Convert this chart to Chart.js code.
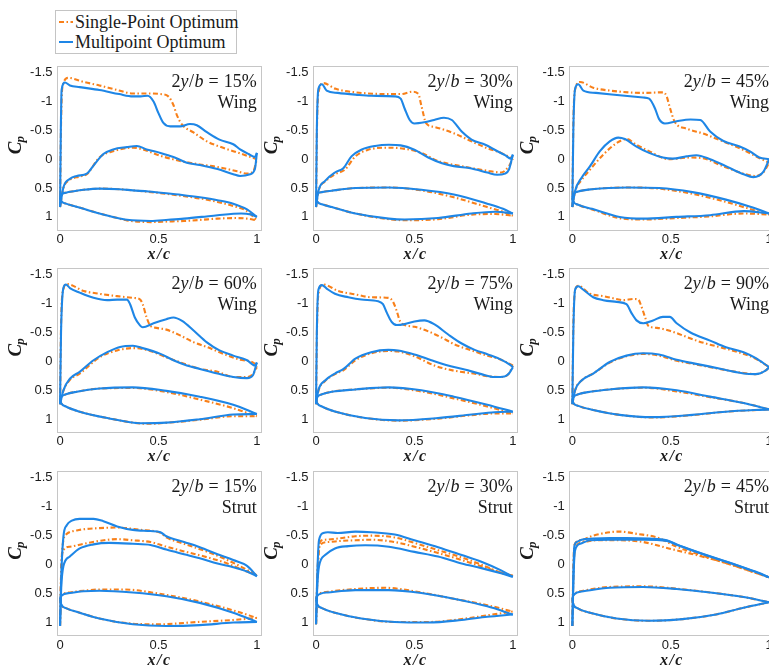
<!DOCTYPE html>
<html>
<head>
<meta charset="utf-8">
<title>Cp comparison</title>
<script src="https://cdn.jsdelivr.net/npm/chart.js@4.4.1/dist/chart.umd.min.js"></script>
<style>
  html, body { margin: 0; padding: 0; background: #fff; width: 769px; height: 671px; overflow: hidden; }
  #fig { position: relative; width: 769px; height: 671px; overflow: hidden; }
  #fig canvas { position: absolute; }
  #legend { position: absolute; left: 55px; top: 10px; width: 180px; height: 42px; border: 1px solid #c4c4c4; background: #fff;
            font-family: "Liberation Serif", serif; font-size: 18px; color: #1a1a1a; }
  #legend .row { position: absolute; left: 2px; height: 18px; line-height: 18px; white-space: nowrap; }
  #legend svg { position: absolute; left: 0; top: 3px; }
  #legend span { position: absolute; left: 17px; top: 0; }
</style>
</head>
<body>
<div id="fig">
  <div id="legend"></div>
</div>
<script>
// panel captions
const SPANS = [15, 30, 45, 60, 75, 90, 15, 30, 45];
const PARTS = ['Wing', 'Wing', 'Wing', 'Wing', 'Wing', 'Wing', 'Strut', 'Strut', 'Strut'];
const SERIES_LABELS = ['Single-Point Optimum', 'Multipoint Optimum'];

// tick values and labels
const X_TICKS = [0, 0.5, 1];
const X_TICK_LABELS = ['0', '0.5', '1'];
const Y_TICKS = [-1.5, -1, -0.5, 0, 0.5, 1];
const Y_TICK_LABELS = ['-1.5', '-1', '-0.5', '0', '0.5', '1'];

// [x/c, value] pairs. Up/Lo = Cp of the two surfaces, ShU/ShL = section shape drawn on the Cp axis
// wing 15%
const w15MpUp = [[0,0.83],[0.004,-0.5],[0.008,-1.2],[0.025,-1.33],[0.05,-1.28],[0.1,-1.25],[0.2,-1.2],[0.3,-1.13],[0.37,-1.09],[0.41,-1.09],[0.445,-1.1],[0.475,-1.0],[0.5,-0.8],[0.525,-0.63],[0.56,-0.57],[0.61,-0.57],[0.66,-0.61],[0.695,-0.59],[0.746,-0.47],[0.81,-0.34],[0.88,-0.26],[0.915,-0.17],[0.958,-0.09],[0.99,-0.04],[1.0,-0.11]];
const w15MpLo = [[0,0.83],[0.017,0.49],[0.05,0.34],[0.085,0.29],[0.136,0.25],[0.17,0.11],[0.22,-0.09],[0.27,-0.17],[0.34,-0.21],[0.39,-0.23],[0.44,-0.17],[0.51,-0.11],[0.576,-0.04],[0.644,0.06],[0.71,0.1],[0.8,0.17],[0.88,0.26],[0.915,0.29],[0.966,0.26],[0.99,0.17],[1.0,-0.11]];
const w15SpUp = [[0,0.83],[0.005,-0.6],[0.012,-1.25],[0.042,-1.41],[0.12,-1.34],[0.2,-1.28],[0.29,-1.2],[0.37,-1.14],[0.44,-1.14],[0.51,-1.13],[0.55,-1.09],[0.576,-0.94],[0.593,-0.77],[0.62,-0.6],[0.68,-0.46],[0.746,-0.31],[0.81,-0.22],[0.88,-0.14],[0.95,-0.06],[1.0,0.0]];
const w15SpLo = [[0,0.83],[0.017,0.5],[0.05,0.36],[0.1,0.3],[0.136,0.26],[0.2,-0.03],[0.27,-0.14],[0.37,-0.2],[0.42,-0.17],[0.51,-0.06],[0.61,0.03],[0.71,0.09],[0.81,0.14],[0.9,0.21],[0.95,0.25],[0.983,0.2],[1.0,0.0]];
const w15MpShU = [[0,0.67],[0.005,0.62],[0.03,0.58],[0.07,0.555],[0.12,0.53],[0.2,0.51],[0.3,0.52],[0.37,0.54],[0.45,0.56],[0.54,0.59],[0.62,0.62],[0.71,0.66],[0.8,0.71],[0.88,0.77],[0.95,0.87],[1.0,1.0]];
const w15MpShL = [[0,0.67],[0.005,0.72],[0.03,0.77],[0.07,0.81],[0.12,0.86],[0.2,0.94],[0.28,1.01],[0.34,1.05],[0.46,1.07],[0.55,1.05],[0.63,1.03],[0.72,1.0],[0.8,0.97],[0.92,0.94],[0.97,0.96],[1.0,1.0]];
const w15SpShU = [[0,0.67],[0.005,0.62],[0.03,0.58],[0.07,0.555],[0.12,0.53],[0.2,0.51],[0.3,0.52],[0.37,0.54],[0.45,0.565],[0.54,0.6],[0.62,0.635],[0.71,0.68],[0.8,0.74],[0.88,0.81],[0.95,0.9],[1.0,1.06]];
const w15SpShL = [[0,0.67],[0.005,0.72],[0.03,0.77],[0.07,0.81],[0.12,0.86],[0.2,0.94],[0.28,1.01],[0.34,1.06],[0.46,1.09],[0.55,1.08],[0.63,1.07],[0.72,1.05],[0.8,1.03],[0.9,1.02],[0.95,1.03],[1.0,1.06]];
// wing 30%
const w30MpUp = [[0,0.83],[0.004,-0.5],[0.012,-1.22],[0.03,-1.3],[0.054,-1.19],[0.11,-1.15],[0.2,-1.12],[0.28,-1.1],[0.4,-1.09],[0.43,-1.05],[0.45,-0.88],[0.476,-0.68],[0.5,-0.62],[0.55,-0.64],[0.6,-0.68],[0.65,-0.72],[0.69,-0.68],[0.74,-0.48],[0.79,-0.34],[0.86,-0.25],[0.91,-0.16],[0.96,-0.07],[0.99,-0.01],[1.0,-0.08]];
const w30MpLo = [[0,0.83],[0.012,0.55],[0.046,0.375],[0.096,0.23],[0.14,0.15],[0.18,-0.05],[0.23,-0.165],[0.3,-0.23],[0.37,-0.25],[0.43,-0.24],[0.5,-0.165],[0.57,-0.03],[0.64,0.07],[0.7,0.12],[0.79,0.16],[0.87,0.23],[0.92,0.27],[0.96,0.25],[0.98,0.18],[1.0,-0.08]];
const w30SpUp = [[0,0.83],[0.005,-0.6],[0.015,-1.2],[0.037,-1.32],[0.1,-1.22],[0.2,-1.16],[0.37,-1.13],[0.43,-1.13],[0.49,-1.17],[0.52,-1.13],[0.535,-0.93],[0.56,-0.62],[0.6,-0.56],[0.7,-0.45],[0.79,-0.31],[0.87,-0.19],[0.94,-0.11],[1.0,-0.01]];
const w30SpLo = [[0,0.83],[0.012,0.56],[0.05,0.38],[0.096,0.26],[0.147,0.18],[0.2,-0.05],[0.265,-0.165],[0.37,-0.2],[0.45,-0.18],[0.535,-0.11],[0.62,0.03],[0.74,0.12],[0.87,0.2],[0.94,0.23],[0.98,0.12],[1.0,-0.01]];
const w30MpShU = [[0,0.67],[0.005,0.61],[0.03,0.57],[0.08,0.545],[0.2,0.5],[0.37,0.49],[0.535,0.53],[0.7,0.61],[0.87,0.77],[0.95,0.86],[1.0,0.94]];
const w30MpShL = [[0,0.67],[0.005,0.73],[0.03,0.78],[0.08,0.83],[0.2,0.94],[0.37,1.03],[0.45,1.045],[0.62,1.02],[0.79,0.94],[0.91,0.91],[1.0,0.94]];
const w30SpShU = [[0,0.67],[0.005,0.61],[0.03,0.57],[0.08,0.545],[0.2,0.5],[0.37,0.49],[0.535,0.54],[0.7,0.66],[0.87,0.83],[0.95,0.91],[1.0,0.98]];
const w30SpShL = [[0,0.67],[0.005,0.73],[0.03,0.78],[0.08,0.83],[0.2,0.94],[0.37,1.04],[0.45,1.057],[0.62,1.04],[0.79,0.96],[0.91,0.95],[1.0,0.98]];
// wing 45%
const w45MpUp = [[0,0.83],[0.005,-0.5],[0.014,-1.22],[0.03,-1.3],[0.056,-1.19],[0.12,-1.15],[0.24,-1.11],[0.36,-1.07],[0.39,-1.05],[0.42,-0.88],[0.44,-0.7],[0.47,-0.62],[0.53,-0.66],[0.6,-0.69],[0.65,-0.68],[0.7,-0.48],[0.765,-0.32],[0.85,-0.22],[0.9,-0.14],[0.95,-0.03],[1.0,0.0]];
const w45MpLo = [[0,0.83],[0.014,0.55],[0.047,0.32],[0.09,0.12],[0.14,-0.14],[0.19,-0.31],[0.233,-0.375],[0.267,-0.35],[0.326,-0.22],[0.39,-0.11],[0.46,-0.03],[0.51,-0.01],[0.58,-0.05],[0.63,-0.07],[0.7,0.0],[0.78,0.12],[0.87,0.26],[0.92,0.31],[0.97,0.22],[1.0,0.0]];
const w45SpUp = [[0,0.83],[0.005,-0.6],[0.015,-1.22],[0.039,-1.34],[0.106,-1.24],[0.19,-1.19],[0.36,-1.15],[0.46,-1.16],[0.478,-1.1],[0.495,-0.9],[0.52,-0.65],[0.58,-0.53],[0.66,-0.45],[0.765,-0.31],[0.87,-0.16],[0.95,-0.02],[1.0,0.06]];
const w45SpLo = [[0,0.83],[0.014,0.56],[0.047,0.36],[0.09,0.18],[0.157,-0.08],[0.225,-0.28],[0.275,-0.35],[0.326,-0.25],[0.39,-0.14],[0.49,0.0],[0.6,-0.03],[0.66,-0.02],[0.765,0.12],[0.87,0.25],[0.93,0.29],[0.97,0.23],[1.0,0.06]];
const w45MpShU = [[0,0.67],[0.005,0.61],[0.03,0.56],[0.1,0.52],[0.28,0.49],[0.44,0.5],[0.61,0.57],[0.78,0.7],[0.9,0.82],[1.0,0.94]];
const w45MpShL = [[0,0.67],[0.005,0.73],[0.03,0.79],[0.1,0.86],[0.24,1.0],[0.36,1.03],[0.53,1.0],[0.7,0.97],[0.87,0.9],[1.0,0.94]];
const w45SpShU = [[0,0.67],[0.005,0.61],[0.03,0.56],[0.1,0.52],[0.28,0.49],[0.44,0.51],[0.61,0.6],[0.78,0.74],[0.9,0.86],[1.0,0.96]];
const w45SpShL = [[0,0.67],[0.005,0.73],[0.03,0.79],[0.1,0.87],[0.24,1.02],[0.36,1.045],[0.53,1.02],[0.7,0.99],[0.87,0.94],[1.0,0.96]];
// wing 60%
const w60MpUp = [[0,0.74],[0.005,-0.5],[0.017,-1.27],[0.03,-1.33],[0.05,-1.27],[0.1,-1.19],[0.17,-1.1],[0.24,-1.06],[0.29,-1.07],[0.34,-1.07],[0.356,-0.99],[0.38,-0.76],[0.407,-0.62],[0.42,-0.59],[0.475,-0.66],[0.54,-0.73],[0.576,-0.76],[0.62,-0.7],[0.68,-0.53],[0.746,-0.33],[0.81,-0.19],[0.88,-0.1],[0.95,-0.02],[0.99,0.07],[1.0,0.02]];
const w60MpLo = [[0,0.74],[0.017,0.5],[0.05,0.3],[0.1,0.18],[0.17,-0.02],[0.24,-0.16],[0.305,-0.25],[0.37,-0.27],[0.42,-0.23],[0.51,-0.13],[0.576,-0.02],[0.644,0.07],[0.71,0.13],[0.8,0.21],[0.88,0.27],[0.95,0.29],[0.98,0.24],[1.0,0.02]];
const w60SpUp = [[0,0.74],[0.005,-0.6],[0.017,-1.25],[0.034,-1.34],[0.12,-1.22],[0.2,-1.17],[0.29,-1.13],[0.37,-1.1],[0.407,-1.07],[0.42,-0.99],[0.44,-0.76],[0.458,-0.62],[0.49,-0.58],[0.54,-0.55],[0.61,-0.45],[0.68,-0.33],[0.746,-0.25],[0.83,-0.13],[0.915,-0.03],[0.99,0.04],[1.0,0.1]];
const w60SpLo = [[0,0.74],[0.017,0.51],[0.05,0.32],[0.1,0.21],[0.2,-0.07],[0.29,-0.19],[0.37,-0.23],[0.44,-0.2],[0.54,-0.07],[0.63,0.04],[0.71,0.13],[0.8,0.18],[0.88,0.27],[0.95,0.27],[0.98,0.22],[1.0,0.1]];
const w60MpShU = [[0,0.67],[0.005,0.62],[0.03,0.57],[0.085,0.525],[0.2,0.47],[0.37,0.45],[0.54,0.51],[0.71,0.61],[0.88,0.75],[1.0,0.91]];
const w60MpShL = [[0,0.67],[0.005,0.72],[0.03,0.78],[0.1,0.87],[0.24,0.98],[0.41,1.07],[0.54,1.06],[0.71,1.0],[0.88,0.92],[1.0,0.91]];
const w60SpShU = [[0,0.67],[0.005,0.62],[0.03,0.57],[0.085,0.525],[0.2,0.47],[0.37,0.46],[0.54,0.53],[0.71,0.66],[0.88,0.81],[1.0,0.95]];
const w60SpShL = [[0,0.67],[0.005,0.72],[0.03,0.78],[0.1,0.87],[0.24,0.98],[0.45,1.08],[0.55,1.06],[0.71,1.01],[0.88,0.95],[1.0,0.95]];
// wing 75%
const w75MpUp = [[0,0.74],[0.004,-0.5],[0.012,-1.24],[0.03,-1.32],[0.054,-1.26],[0.096,-1.17],[0.164,-1.11],[0.23,-1.07],[0.316,-1.04],[0.34,-0.99],[0.36,-0.84],[0.383,-0.69],[0.41,-0.63],[0.45,-0.645],[0.5,-0.69],[0.55,-0.71],[0.6,-0.645],[0.67,-0.47],[0.74,-0.31],[0.806,-0.2],[0.873,-0.12],[0.94,-0.03],[0.99,0.07],[1.0,0.1]];
const w75MpLo = [[0,0.74],[0.012,0.5],[0.046,0.33],[0.096,0.21],[0.14,0.13],[0.2,-0.05],[0.28,-0.16],[0.367,-0.2],[0.417,-0.19],[0.5,-0.12],[0.586,-0.02],[0.67,0.07],[0.755,0.14],[0.84,0.22],[0.907,0.27],[0.958,0.26],[0.98,0.21],[1.0,0.1]];
const w75SpUp = [[0,0.74],[0.005,-0.6],[0.015,-1.22],[0.037,-1.33],[0.113,-1.22],[0.2,-1.16],[0.28,-1.11],[0.367,-1.1],[0.39,-1.04],[0.41,-0.87],[0.426,-0.7],[0.45,-0.63],[0.5,-0.6],[0.57,-0.52],[0.64,-0.41],[0.7,-0.3],[0.79,-0.19],[0.87,-0.1],[0.94,-0.03],[1.0,0.07]];
const w75SpLo = [[0,0.74],[0.012,0.51],[0.046,0.34],[0.096,0.22],[0.14,0.15],[0.2,-0.02],[0.28,-0.14],[0.367,-0.18],[0.417,-0.17],[0.5,-0.09],[0.6,0.07],[0.7,0.16],[0.8,0.21],[0.88,0.26],[0.94,0.27],[0.98,0.21],[1.0,0.07]];
const w75MpShU = [[0,0.67],[0.005,0.62],[0.03,0.57],[0.08,0.525],[0.2,0.485],[0.367,0.45],[0.535,0.5],[0.7,0.61],[0.87,0.75],[1.0,0.87]];
const w75MpShL = [[0,0.67],[0.005,0.72],[0.03,0.78],[0.1,0.87],[0.25,0.98],[0.42,1.02],[0.62,0.98],[0.79,0.92],[0.907,0.88],[1.0,0.87]];
const w75SpShU = [[0,0.67],[0.005,0.62],[0.03,0.57],[0.08,0.525],[0.2,0.485],[0.367,0.455],[0.535,0.52],[0.7,0.64],[0.87,0.78],[1.0,0.9]];
const w75SpShL = [[0,0.67],[0.005,0.72],[0.03,0.78],[0.1,0.87],[0.25,0.98],[0.42,1.025],[0.62,0.99],[0.79,0.93],[0.907,0.9],[1.0,0.9]];
// wing 90%
const w90MpUp = [[0,0.74],[0.005,-0.5],[0.014,-1.24],[0.03,-1.3],[0.056,-1.24],[0.106,-1.11],[0.157,-1.06],[0.225,-1.03],[0.275,-0.99],[0.3,-0.84],[0.326,-0.71],[0.36,-0.66],[0.41,-0.71],[0.46,-0.77],[0.495,-0.77],[0.53,-0.66],[0.6,-0.5],[0.7,-0.36],[0.78,-0.245],[0.87,-0.16],[0.93,-0.06],[1.0,0.1]];
const w90MpLo = [[0,0.74],[0.014,0.5],[0.047,0.33],[0.106,0.21],[0.19,0.01],[0.275,-0.1],[0.36,-0.14],[0.44,-0.12],[0.53,-0.03],[0.61,0.03],[0.7,0.09],[0.78,0.15],[0.87,0.21],[0.93,0.22],[0.985,0.15],[1.0,0.1]];
const w90SpUp = [[0,0.74],[0.005,-0.6],[0.014,-1.22],[0.03,-1.31],[0.09,-1.17],[0.157,-1.13],[0.225,-1.08],[0.26,-1.06],[0.31,-1.08],[0.335,-1.07],[0.35,-0.96],[0.37,-0.76],[0.385,-0.62],[0.43,-0.58],[0.495,-0.53],[0.56,-0.45],[0.63,-0.36],[0.7,-0.29],[0.78,-0.22],[0.87,-0.13],[0.93,-0.05],[1.0,0.1]];
const w90SpLo = [[0,0.74],[0.014,0.5],[0.047,0.33],[0.106,0.21],[0.19,0.02],[0.275,-0.09],[0.36,-0.13],[0.44,-0.1],[0.53,-0.01],[0.61,0.04],[0.7,0.1],[0.78,0.15],[0.87,0.2],[0.93,0.22],[0.985,0.15],[1.0,0.1]];
const w90MpShU = [[0,0.67],[0.005,0.62],[0.03,0.57],[0.09,0.525],[0.19,0.485],[0.36,0.45],[0.53,0.5],[0.7,0.61],[0.87,0.72],[1.0,0.83]];
const w90MpShL = [[0,0.67],[0.005,0.72],[0.03,0.77],[0.106,0.84],[0.24,0.925],[0.41,0.965],[0.61,0.925],[0.78,0.87],[1.0,0.83]];
const w90SpShU = [[0,0.67],[0.005,0.62],[0.03,0.57],[0.09,0.525],[0.19,0.485],[0.36,0.455],[0.53,0.52],[0.7,0.62],[0.87,0.72],[1.0,0.83]];
const w90SpShL = [[0,0.67],[0.005,0.72],[0.03,0.77],[0.106,0.84],[0.24,0.925],[0.41,0.97],[0.61,0.93],[0.78,0.87],[1.0,0.83]];
// strut 15%
const s15MpUp = [[0,1.06],[0.006,0.2],[0.017,-0.48],[0.034,-0.68],[0.06,-0.76],[0.1,-0.79],[0.17,-0.79],[0.22,-0.75],[0.29,-0.66],[0.37,-0.6],[0.46,-0.58],[0.51,-0.56],[0.54,-0.49],[0.63,-0.39],[0.71,-0.3],[0.8,-0.18],[0.88,-0.08],[0.95,0.02],[0.99,0.16],[1.0,0.2]];
const s15MpLo = [[0,1.06],[0.006,0.4],[0.017,0.03],[0.05,-0.14],[0.1,-0.28],[0.17,-0.35],[0.25,-0.375],[0.37,-0.36],[0.46,-0.34],[0.54,-0.26],[0.63,-0.18],[0.71,-0.11],[0.8,-0.02],[0.88,0.045],[0.95,0.12],[1.0,0.2]];
const s15SpUp = [[0,1.06],[0.006,0.1],[0.017,-0.42],[0.034,-0.53],[0.085,-0.59],[0.2,-0.63],[0.29,-0.64],[0.41,-0.6],[0.51,-0.55],[0.54,-0.47],[0.63,-0.36],[0.75,-0.22],[0.85,-0.08],[0.95,0.09],[1.0,0.18]];
const s15SpLo = [[0,1.06],[0.006,0.1],[0.017,-0.25],[0.05,-0.31],[0.12,-0.36],[0.2,-0.41],[0.29,-0.44],[0.37,-0.42],[0.46,-0.39],[0.54,-0.31],[0.64,-0.22],[0.75,-0.125],[0.85,-0.02],[0.95,0.12],[1.0,0.18]];
const s15MpShU = [[0,0.6],[0.005,0.54],[0.05,0.49],[0.12,0.46],[0.2,0.45],[0.37,0.48],[0.54,0.545],[0.71,0.66],[0.88,0.83],[1.0,0.99]];
const s15MpShL = [[0,0.6],[0.005,0.68],[0.03,0.75],[0.1,0.83],[0.2,0.93],[0.37,1.03],[0.54,1.06],[0.71,1.045],[0.88,1.0],[1.0,0.99]];
const s15SpShU = [[0,0.6],[0.005,0.54],[0.05,0.48],[0.12,0.45],[0.2,0.43],[0.33,0.43],[0.5,0.5],[0.7,0.63],[0.88,0.79],[1.0,0.92]];
const s15SpShL = [[0,0.6],[0.005,0.68],[0.03,0.75],[0.1,0.83],[0.2,0.93],[0.37,1.02],[0.5,1.03],[0.7,0.99],[0.88,0.955],[1.0,0.92]];
// strut 30%
const s30MpUp = [[0,1.03],[0.006,0.2],[0.015,-0.42],[0.037,-0.545],[0.06,-0.56],[0.11,-0.545],[0.2,-0.57],[0.28,-0.56],[0.4,-0.52],[0.5,-0.42],[0.62,-0.3],[0.74,-0.165],[0.84,-0.05],[0.94,0.1],[1.0,0.21]];
const s30MpLo = [[0,1.03],[0.006,0.4],[0.015,0.03],[0.046,-0.165],[0.096,-0.28],[0.164,-0.32],[0.25,-0.335],[0.37,-0.31],[0.5,-0.22],[0.62,-0.14],[0.74,-0.02],[0.84,0.06],[0.94,0.15],[1.0,0.21]];
const s30SpUp = [[0,1.03],[0.008,0.1],[0.02,-0.39],[0.046,-0.43],[0.11,-0.45],[0.2,-0.49],[0.28,-0.5],[0.4,-0.47],[0.5,-0.375],[0.62,-0.25],[0.74,-0.125],[0.84,0.0],[0.94,0.14],[1.0,0.19]];
const s30SpLo = [[0,1.03],[0.008,0.1],[0.02,-0.335],[0.06,-0.39],[0.13,-0.41],[0.2,-0.42],[0.28,-0.43],[0.4,-0.39],[0.5,-0.31],[0.62,-0.2],[0.74,-0.08],[0.84,0.03],[0.94,0.14],[1.0,0.19]];
const s30MpShU = [[0,0.6],[0.005,0.54],[0.06,0.48],[0.2,0.44],[0.37,0.44],[0.535,0.49],[0.7,0.59],[0.87,0.72],[1.0,0.86]];
const s30MpShL = [[0,0.6],[0.005,0.68],[0.03,0.75],[0.096,0.83],[0.23,0.93],[0.4,0.99],[0.57,1.0],[0.74,0.955],[0.87,0.9],[1.0,0.86]];
const s30SpShU = [[0,0.6],[0.005,0.54],[0.06,0.47],[0.2,0.42],[0.35,0.4],[0.5,0.46],[0.7,0.59],[0.87,0.7],[1.0,0.81]];
const s30SpShL = [[0,0.6],[0.005,0.68],[0.03,0.75],[0.096,0.83],[0.23,0.93],[0.4,0.99],[0.57,0.99],[0.74,0.94],[0.87,0.875],[1.0,0.81]];
// strut 45%
const s45MpUp = [[0,1.06],[0.005,0.2],[0.01,-0.31],[0.022,-0.39],[0.047,-0.43],[0.106,-0.45],[0.19,-0.46],[0.275,-0.46],[0.39,-0.45],[0.48,-0.42],[0.53,-0.35],[0.61,-0.25],[0.73,-0.11],[0.83,0.0],[0.93,0.12],[1.0,0.22]];
const s45MpLo = [[0,1.06],[0.006,0.2],[0.014,-0.25],[0.04,-0.36],[0.09,-0.42],[0.19,-0.43],[0.36,-0.43],[0.48,-0.41],[0.53,-0.345],[0.61,-0.245],[0.73,-0.105],[0.83,0.005],[0.93,0.125],[1.0,0.22]];
const s45SpUp = [[0,1.06],[0.005,0.1],[0.01,-0.335],[0.04,-0.42],[0.106,-0.5],[0.19,-0.56],[0.24,-0.57],[0.33,-0.53],[0.43,-0.47],[0.53,-0.31],[0.63,-0.19],[0.73,-0.08],[0.83,0.03],[0.93,0.14],[1.0,0.22]];
const s45SpLo = [[0,1.06],[0.006,0.1],[0.014,-0.28],[0.056,-0.39],[0.12,-0.42],[0.24,-0.42],[0.36,-0.39],[0.49,-0.28],[0.63,-0.165],[0.78,-0.03],[0.93,0.14],[1.0,0.22]];
const s45MpShU = [[0,0.6],[0.005,0.53],[0.056,0.46],[0.19,0.4],[0.36,0.386],[0.53,0.42],[0.7,0.48],[0.87,0.56],[1.0,0.65]];
const s45MpShL = [[0,0.6],[0.005,0.68],[0.03,0.76],[0.09,0.83],[0.225,0.93],[0.39,0.97],[0.56,0.94],[0.73,0.86],[0.87,0.745],[1.0,0.65]];
const s45SpShU = [[0,0.6],[0.005,0.53],[0.056,0.45],[0.19,0.385],[0.36,0.375],[0.53,0.415],[0.7,0.48],[0.87,0.56],[1.0,0.65]];
const s45SpShL = [[0,0.6],[0.005,0.68],[0.03,0.76],[0.09,0.83],[0.225,0.93],[0.39,0.97],[0.56,0.94],[0.73,0.86],[0.87,0.745],[1.0,0.65]];

const SP_CURVES = [
  [w15SpUp, w15SpLo, w15SpShU, w15SpShL], [w30SpUp, w30SpLo, w30SpShU, w30SpShL], [w45SpUp, w45SpLo, w45SpShU, w45SpShL],
  [w60SpUp, w60SpLo, w60SpShU, w60SpShL], [w75SpUp, w75SpLo, w75SpShU, w75SpShL], [w90SpUp, w90SpLo, w90SpShU, w90SpShL],
  [s15SpUp, s15SpLo, s15SpShU, s15SpShL], [s30SpUp, s30SpLo, s30SpShU, s30SpShL], [s45SpUp, s45SpLo, s45SpShU, s45SpShL]
];
const MP_CURVES = [
  [w15MpUp, w15MpLo, w15MpShU, w15MpShL], [w30MpUp, w30MpLo, w30MpShU, w30MpShL], [w45MpUp, w45MpLo, w45MpShU, w45MpShL],
  [w60MpUp, w60MpLo, w60MpShU, w60MpShL], [w75MpUp, w75MpLo, w75MpShU, w75MpShL], [w90MpUp, w90MpLo, w90MpShU, w90MpShL],
  [s15MpUp, s15MpLo, s15MpShU, s15MpShL], [s30MpUp, s30MpLo, s30MpShU, s30MpShL], [s45MpUp, s45MpLo, s45MpShU, s45MpShL]
];

// look
const ORANGE = '#f8801a';
const BLUE = '#1e86e6';
const DASH_DOT = [5, 2.5, 1.5, 2.5];
const SERIF = '"Liberation Serif", "Times New Roman", serif';
const SANS = '"Liberation Sans", Arial, sans-serif';
const TEXT = '#1a1a1a';

// layout of the 3x3 grid (plot-box left / top edges, box size)
const COL_L = [56.5, 312.5, 568.8];
const ROW_T = [64, 266.3, 469.7];
const BOX_W = 204.7, BOX_H = 165.6;
const AXIS_W = 50, CANVAS_W = 272, CANVAS_H = 224, TOP_PAD = 10;


// Legend (html, outside the axes like the original)
(function () {
    var lg = document.getElementById('legend');
    [[ORANGE, DASH_DOT], [BLUE, null]].forEach(function (s, i) {
        var row = document.createElement('div');
        row.className = 'row';
        row.style.top = (i === 0 ? 2 : 22) + 'px';
        var dash = s[1] ? ' stroke-dasharray="' + s[1].join(',') + '"' : '';
        row.innerHTML = '<svg width="15" height="12"><line x1="1" y1="6" x2="15" y2="6" stroke="' + s[0] +
            '" stroke-width="2"' + dash + '/></svg><span>' + SERIES_LABELS[i] + '</span>';
        lg.appendChild(row);
    });
})();


// draw text pieces with mixed fonts, right aligned at xr
function drawRuns(ctx, runs, xr, y) {
    var total = 0;
    runs.forEach(function (r) { ctx.font = r.font; r.w = ctx.measureText(r.text).width; total += r.w + (r.gap || 0); });
    var x = xr - total;
    runs.forEach(function (r) { ctx.font = r.font; ctx.fillText(r.text, x, y); x += r.w + (r.gap || 0); });
}

// box, panel caption, Cp label and x/c label
const panelDecor = {
    id: 'panelDecor',
    beforeDatasetsDraw: function (chart) {
        var a = chart.chartArea, ctx = chart.ctx;
        ctx.save();
        ctx.strokeStyle = '#c6c6c6';
        ctx.lineWidth = 1;
        ctx.strokeRect(Math.round(a.left) + 0.5, Math.round(a.top) + 0.5,
            Math.round(a.right) - Math.round(a.left), Math.round(a.bottom) - Math.round(a.top));
        ctx.restore();
    },
    afterDraw: function (chart, args, opts) {
        var a = chart.chartArea, ctx = chart.ctx;
        ctx.save();
        ctx.fillStyle = TEXT;
        ctx.textBaseline = 'alphabetic';
        ctx.textAlign = 'left';
        var up = '18px ' + SERIF, it = 'italic 18px ' + SERIF;
        drawRuns(ctx, [
            { text: '2', font: up },
            { text: 'y', font: it, gap: 0.5 },
            { text: '/', font: up, gap: 0.5 },
            { text: 'b', font: it, gap: 5 },
            { text: '=', font: up, gap: 5 },
            { text: opts.span + '%', font: up }
        ], a.right - 4.5, a.top + 21);
        drawRuns(ctx, [{ text: opts.part, font: up }], a.right - 4.5, a.top + 42);

        // x/c under the box
        var bi = 'bold italic 16px ' + SERIF;
        ctx.font = bi;
        var parts = ['x', '/', 'c'], ws = parts.map(function (t) { return ctx.measureText(t).width; });
        var tw = ws[0] + ws[1] + ws[2] + 3;
        var x = (a.left + a.right) / 2 - tw / 2;
        parts.forEach(function (t, k) { ctx.fillText(t, x, a.bottom + 29.5); x += ws[k] + 1.5; });

        // rotated C_p
        ctx.translate(a.left - 38, (a.top + a.bottom) / 2 - 3);
        ctx.rotate(-Math.PI / 2);
        ctx.font = 'bold italic 19px ' + SERIF;
        var wC = ctx.measureText('C').width;
        ctx.font = 'bold italic 13px ' + SERIF;
        var wp = ctx.measureText('p').width;
        var x0 = -(wC + wp) / 2;
        ctx.font = 'bold italic 19px ' + SERIF;
        ctx.fillText('C', x0, 2);
        ctx.font = 'bold italic 13px ' + SERIF;
        ctx.fillText('p', x0 + wC - 1, 5);
        ctx.restore();
    }
};

function curveSet(curves, color, dash) {
    return curves.map(function (c) {
        return {
            data: c.map(function (p) { return { x: p[0], y: p[1] }; }),
            showLine: true,
            borderColor: color,
            backgroundColor: color,
            borderWidth: 2.1,
            borderDash: dash || [],
            pointRadius: 0,
            fill: false,
            cubicInterpolationMode: 'monotone',
            clip: false
        };
    });
}

var fig = document.getElementById('fig');
for (var i = 0; i < 9; i++) {
    var r = Math.floor(i / 3), c = i % 3;
    var L = COL_L[c], T = ROW_T[r];
    var fracL = L - Math.floor(L), fracT = T - Math.floor(T);
    var cv = document.createElement('canvas');
    cv.width = CANVAS_W;
    cv.height = CANVAS_H;
    cv.style.left = (Math.floor(L) - AXIS_W) + 'px';
    cv.style.top = (Math.floor(T) - TOP_PAD) + 'px';
    fig.appendChild(cv);

    var padTop = TOP_PAD + fracT;
    var padRight = CANVAS_W - AXIS_W - fracL - BOX_W;
    var xAxisH = CANVAS_H - padTop - BOX_H;

    // multipoint first so it is drawn on top
    var datasets = curveSet(MP_CURVES[i], BLUE).concat(curveSet(SP_CURVES[i], ORANGE, DASH_DOT));

    new Chart(cv.getContext('2d'), {
        type: 'scatter',
        data: { datasets: datasets },
        options: {
            responsive: false,
            animation: false,
            events: [],
            layout: { autoPadding: false, padding: { left: fracL, top: padTop, right: padRight, bottom: 0 } },
            plugins: {
                legend: { display: false },
                tooltip: { enabled: false },
                panelDecor: { span: SPANS[i], part: PARTS[i] }
            },
            scales: {
                x: {
                    type: 'linear', min: -0.018, max: 1.022,
                    grid: { display: false, drawTicks: false },
                    border: { display: false },
                    afterBuildTicks: function (s) { s.ticks = X_TICKS.map(function (v) { return { value: v }; }); },
                    afterFit: (function (h) { return function (s) { s.height = h; }; })(xAxisH),
                    ticks: {
                        padding: 2, maxRotation: 0, autoSkip: false, color: TEXT,
                        font: { family: SANS, size: 13 },
                        callback: function (v, k) { return X_TICK_LABELS[k]; }
                    }
                },
                y: {
                    type: 'linear', reverse: true, min: -1.62, max: 1.22,
                    grid: { display: false, drawTicks: false },
                    border: { display: false },
                    afterBuildTicks: function (s) { s.ticks = Y_TICKS.map(function (v) { return { value: v }; }); },
                    afterFit: function (s) { s.width = AXIS_W; },
                    ticks: {
                        padding: 4, autoSkip: false, color: TEXT,
                        font: { family: SANS, size: 13 },
                        callback: function (v, k) { return Y_TICK_LABELS[k]; }
                    }
                }
            }
        },
        plugins: [panelDecor]
    });
}
</script>
</body>
</html>
